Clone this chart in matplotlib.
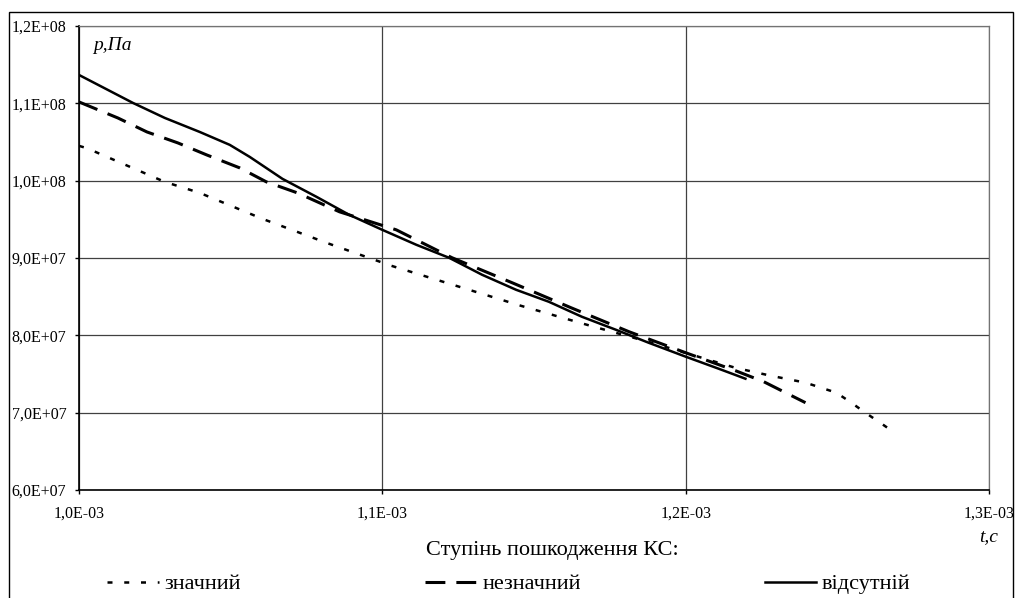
import matplotlib
matplotlib.use("Agg")
import matplotlib.pyplot as plt
from matplotlib.patches import Rectangle
from matplotlib.lines import Line2D

plt.rcParams['font.family'] = ['Liberation Serif', 'DejaVu Serif']

# significant damage (dotted)
t_znach = [1.0000e-3, 1.0026e-3, 1.0283e-3, 1.0398e-3, 1.0605e-3, 1.0816e-3, 1.1030e-3,
           1.1243e-3, 1.1457e-3, 1.1674e-3, 1.1888e-3, 1.2164e-3, 1.2280e-3, 1.2395e-3,
           1.2497e-3, 1.2546e-3, 1.2592e-3, 1.2641e-3, 1.2688e-3]
p_znach = [1.0450e8, 1.0420e8, 0.9984e8, 0.9842e8, 0.9506e8, 0.9196e8, 0.8899e8,
           0.8641e8, 0.8382e8, 0.8137e8, 0.7904e8, 0.7580e8, 0.7478e8, 0.7388e8,
           0.7258e8, 0.7129e8, 0.7000e8, 0.6871e8, 0.6742e8]

# insignificant damage (dashed)
t_neznach = [1.0000e-3, 1.0128e-3, 1.0224e-3, 1.0326e-3, 1.0421e-3, 1.0530e-3, 1.0618e-3,
             1.0720e-3, 1.0859e-3, 1.1046e-3, 1.1230e-3, 1.1428e-3, 1.1622e-3, 1.1813e-3,
             1.2000e-3, 1.2164e-3, 1.2257e-3, 1.2395e-3]
p_neznach = [1.1018e8, 1.0811e8, 1.0630e8, 1.0488e8, 1.0333e8, 1.0165e8, 0.9984e8,
             0.9842e8, 0.9597e8, 0.9364e8, 0.9003e8, 0.8680e8, 0.8357e8, 0.8047e8,
             0.7775e8, 0.7543e8, 0.7401e8, 0.7129e8]

# no damage (solid)
t_vids = [1.0000e-3, 1.0178e-3, 1.0283e-3, 1.0398e-3, 1.0497e-3, 1.0563e-3, 1.0671e-3,
          1.0783e-3, 1.0891e-3, 1.1000e-3, 1.1112e-3, 1.1220e-3, 1.1329e-3, 1.1441e-3,
          1.1549e-3, 1.1658e-3, 1.1770e-3, 1.1878e-3, 1.2000e-3, 1.2109e-3, 1.2197e-3]
p_vids = [1.1367e8, 1.1005e8, 1.0811e8, 1.0630e8, 1.0463e8, 1.0307e8, 1.0023e8,
          0.9791e8, 0.9558e8, 0.9364e8, 0.9171e8, 0.9003e8, 0.8783e8, 0.8589e8,
          0.8434e8, 0.8240e8, 0.8072e8, 0.7904e8, 0.7724e8, 0.7568e8, 0.7439e8]

x_ticks = [1.0e-3, 1.1e-3, 1.2e-3, 1.3e-3]
x_labels = ["1,0E-03", "1,1E-03", "1,2E-03", "1,3E-03"]
y_ticks = [6.0e7, 7.0e7, 8.0e7, 9.0e7, 1.0e8, 1.1e8, 1.2e8]
y_labels = ["6,0E+07", "7,0E+07", "8,0E+07", "9,0E+07", "1,0E+08", "1,1E+08", "1,2E+08"]
series_names = ["значний", "незначний", "відсутній"]

dot_style = dict(color='black', lw=1.8, dashes=(2.0, 4.7), dash_capstyle='butt')
dash_style = dict(color='black', lw=2.2, dashes=(6.5, 3.6), dash_capstyle='butt')
solid_style = dict(color='black', lw=1.8)

fig = plt.figure(figsize=(10.15, 5.98), dpi=100)
ax = fig.add_axes([79/1015, 1 - 490/598, 910/1015, 464/598])

ax.plot(t_znach, p_znach, **dot_style)
ax.plot(t_neznach, p_neznach, **dash_style)
ax.plot(t_vids, p_vids, **solid_style)

ax.set_xlim(1.0e-3, 1.3e-3)
ax.set_ylim(6.0e7, 1.2e8)
ax.set_xticks(x_ticks)
ax.set_xticklabels(x_labels)
ax.set_yticks(y_ticks)
ax.set_yticklabels(y_labels)
ax.tick_params(axis='both', direction='out', length=3, width=1, labelsize=11.5, color='black')
ax.tick_params(axis='y', pad=6)
ax.tick_params(axis='x', pad=8)
ax.grid(True, color='0.25', lw=0.9)
ax.set_axisbelow(True)
for s in ['left', 'bottom']:
    ax.spines[s].set_color('black')
    ax.spines[s].set_linewidth(1.2)
for s in ['top', 'right']:
    ax.spines[s].set_color('0.45')
    ax.spines[s].set_linewidth(0.9)

ax.text(14/910, 1 - 19/464, "p,Па", transform=ax.transAxes,
        fontsize=14, style='italic', ha='left', va='center')
fig.text(998/1015, 1 - 537/598, "t,c", fontsize=14, style='italic', ha='right', va='center')

fig.text(552/1015, 1 - 551/598, "Ступінь пошкодження КС:", fontsize=16, ha='center', va='center')

handles = [Line2D([], [], **dot_style),
           Line2D([], [], **dash_style),
           Line2D([], [], **solid_style)]
fig.legend(handles, series_names, loc='center', bbox_to_anchor=(509/1015, 1 - 584/598),
           ncol=3, frameon=False, fontsize=16, handlelength=2.3, handletextpad=0.26,
           columnspacing=8.3, borderpad=0, borderaxespad=0)

fig.patches.append(Rectangle((9/1015, -0.05), 1004/1015, 0.05 + 1 - 12/598,
                             transform=fig.transFigure, fill=False, edgecolor='black', lw=1))

fig.savefig("out.png", dpi=100)
